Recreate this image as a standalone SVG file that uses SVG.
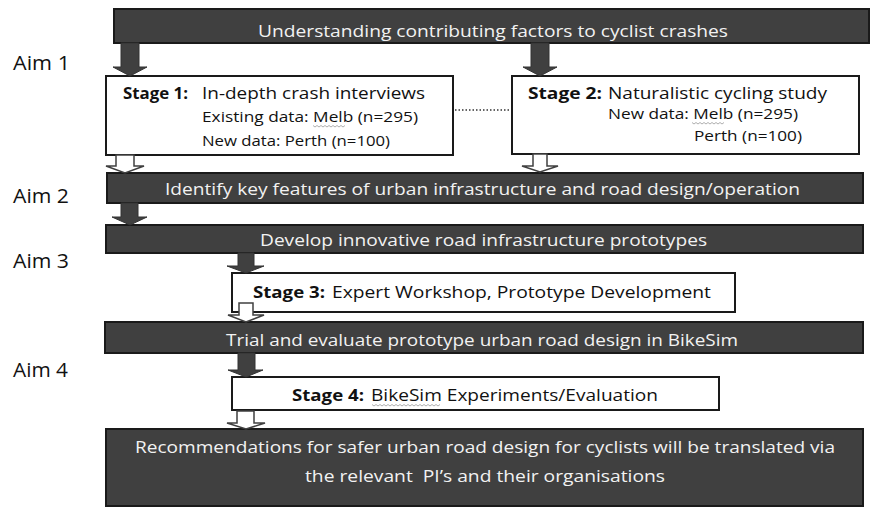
<svg xmlns="http://www.w3.org/2000/svg" width="871" height="507" viewBox="0 0 871 507">
  <style>
    .bar { fill: #404040; stroke: #1a1a1a; stroke-width: 2; }
    .stage { fill: #ffffff; stroke: #1a1a1a; stroke-width: 2; }
    .solid { fill: #404040; stroke: #333333; stroke-width: 1; }
    .hollow { fill: #ffffff; stroke: #404040; stroke-width: 1.5; }
    .dots { fill: none; stroke: #333333; stroke-width: 1.5; stroke-dasharray: 1.5 2; }
    .squiggle { fill: none; stroke: #9a9a9a; stroke-width: 0.8; }
    text { font-family: "Open Sans", "Liberation Sans", Arial, sans-serif; }
    .light { fill: #f2f2f2; font-size: 16px; }
    .head { fill: #111111; font-size: 16.5px; }
    .bold { font-weight: bold; }
    .sub { fill: #111111; font-size: 15px; }
    .aim { fill: #111111; font-size: 20.5px; }
  </style>

  <!-- aim labels -->
  <g id="aims">
    <text class="aim" x="13" y="70" textLength="57" lengthAdjust="spacingAndGlyphs">Aim 1</text>
    <text class="aim" x="13" y="203" textLength="56" lengthAdjust="spacingAndGlyphs">Aim 2</text>
    <text class="aim" x="13" y="268" textLength="56" lengthAdjust="spacingAndGlyphs">Aim 3</text>
    <text class="aim" x="13" y="377" textLength="55" lengthAdjust="spacingAndGlyphs">Aim 4</text>
  </g>

  <g id="understanding">
    <rect class="bar" x="114" y="9" width="755" height="34"/>
    <text class="light" x="258" y="37" textLength="470" lengthAdjust="spacingAndGlyphs">Understanding contributing factors to cyclist crashes</text>
  </g>

  <g id="stage1">
    <rect class="stage" x="106" y="76" width="347" height="79"/>
    <text class="head bold" x="123" y="99" textLength="65" lengthAdjust="spacingAndGlyphs">Stage 1:</text>
    <text class="head" x="202" y="99" textLength="223" lengthAdjust="spacingAndGlyphs">In-depth crash interviews</text>
    <text class="sub" x="202" y="122" textLength="216" lengthAdjust="spacingAndGlyphs">Existing data: Melb (n=295)</text>
    <text class="sub" x="202" y="146" textLength="188" lengthAdjust="spacingAndGlyphs">New data: Perth (n=100)</text>
    <path class="squiggle" d="M313 125.5 l2 1.5 l2 -1.5 l2 1.5 l2 -1.5 l2 1.5 l2 -1.5 l2 1.5 l2 -1.5 l2 1.5 l2 -1.5 l2 1.5 l2 -1.5 l2 1.5 l2 -1.5 l2 1.5 l2 -1.5"/>
  </g>

  <g id="stage2">
    <rect class="stage" x="512" y="76" width="347" height="78"/>
    <text class="head bold" x="528" y="99" textLength="74" lengthAdjust="spacingAndGlyphs">Stage 2:</text>
    <text class="head" x="608" y="99" textLength="219" lengthAdjust="spacingAndGlyphs">Naturalistic cycling study</text>
    <text class="sub" x="608" y="119" textLength="190" lengthAdjust="spacingAndGlyphs">New data: Melb (n=295)</text>
    <text class="sub" x="694" y="141" textLength="108" lengthAdjust="spacingAndGlyphs">Perth (n=100)</text>
    <path class="squiggle" d="M692 122.5 l2 1.5 l2 -1.5 l2 1.5 l2 -1.5 l2 1.5 l2 -1.5 l2 1.5 l2 -1.5 l2 1.5 l2 -1.5 l2 1.5 l2 -1.5 l2 1.5 l2 -1.5 l2 1.5 l2 -1.5"/>
  </g>

  <g id="identify">
    <rect class="bar" x="107" y="173" width="756" height="30"/>
    <text class="light" x="165" y="195" textLength="635" lengthAdjust="spacingAndGlyphs">Identify key features of urban infrastructure and road design/operation</text>
  </g>

  <g id="develop">
    <rect class="bar" x="106" y="225" width="757" height="28"/>
    <text class="light" x="260" y="246" textLength="447" lengthAdjust="spacingAndGlyphs">Develop innovative road infrastructure prototypes</text>
  </g>

  <g id="stage3">
    <rect class="stage" x="232" y="273" width="503" height="39"/>
    <text class="head bold" x="253" y="298" textLength="72" lengthAdjust="spacingAndGlyphs">Stage 3:</text>
    <text class="head" x="332" y="298" textLength="379" lengthAdjust="spacingAndGlyphs">Expert Workshop, Prototype Development</text>
  </g>

  <g id="trial">
    <rect class="bar" x="105" y="322" width="758" height="31"/>
    <text class="light" x="226" y="346" textLength="512" lengthAdjust="spacingAndGlyphs">Trial and evaluate prototype urban road design in BikeSim</text>
  </g>

  <g id="stage4">
    <rect class="stage" x="232" y="377" width="487" height="33"/>
    <text class="head bold" x="292" y="401" textLength="72" lengthAdjust="spacingAndGlyphs">Stage 4:</text>
    <text class="head" x="371" y="401" textLength="287" lengthAdjust="spacingAndGlyphs">BikeSim Experiments/Evaluation</text>
    <path class="squiggle" d="M372 404.5 l2 1.5 l2 -1.5 l2 1.5 l2 -1.5 l2 1.5 l2 -1.5 l2 1.5 l2 -1.5 l2 1.5 l2 -1.5 l2 1.5 l2 -1.5 l2 1.5 l2 -1.5 l2 1.5 l2 -1.5 l2 1.5 l2 -1.5 l2 1.5 l2 -1.5 l2 1.5 l2 -1.5 l2 1.5 l2 -1.5 l2 1.5 l2 -1.5 l2 1.5 l2 -1.5 l2 1.5 l2 -1.5 l2 1.5 l2 -1.5 l2 1.5 l2 -1.5"/>
  </g>

  <g id="recommendations">
    <rect class="bar" x="106" y="429" width="757" height="77"/>
    <text class="light" x="135" y="453" textLength="700" lengthAdjust="spacingAndGlyphs">Recommendations for safer urban road design for cyclists will be translated via</text>
    <text class="light" x="305" y="482" textLength="360" lengthAdjust="spacingAndGlyphs" xml:space="preserve">the relevant  PI’s and their organisations</text>
  </g>

  <!-- block arrows between the rows -->
  <g id="connectors">
    <line class="dots" x1="455" y1="110" x2="511" y2="110"/>
    <polygon class="solid" points="121,43 139,43 139,67 147,67 130,76 113,67 121,67"/>
    <polygon class="solid" points="531,43 549,43 549,67 557,67 540,76 523,67 531,67"/>
    <polygon class="hollow" points="116,155 134,155 134,166 144,166 125,173 106,166 116,166"/>
    <polygon class="hollow" points="533,154 547,154 547,166 558,166 540,172 522,166 533,166"/>
    <polygon class="solid" points="121,203 138,203 138,217 147,217 130,225 112,217 121,217"/>
    <polygon class="solid" points="238,253 254,253 254,266 264,266 246,273 227,266 238,266"/>
    <polygon class="hollow" points="239,303 253,303 253,315 264,315 246,322 228,315 239,315"/>
    <polygon class="solid" points="238,353 255,353 255,370 263,370 246,377 228,370 238,370"/>
    <polygon class="hollow" points="237,411 254,411 254,423 265,423 246,429 227,423 237,423"/>
  </g>
</svg>
